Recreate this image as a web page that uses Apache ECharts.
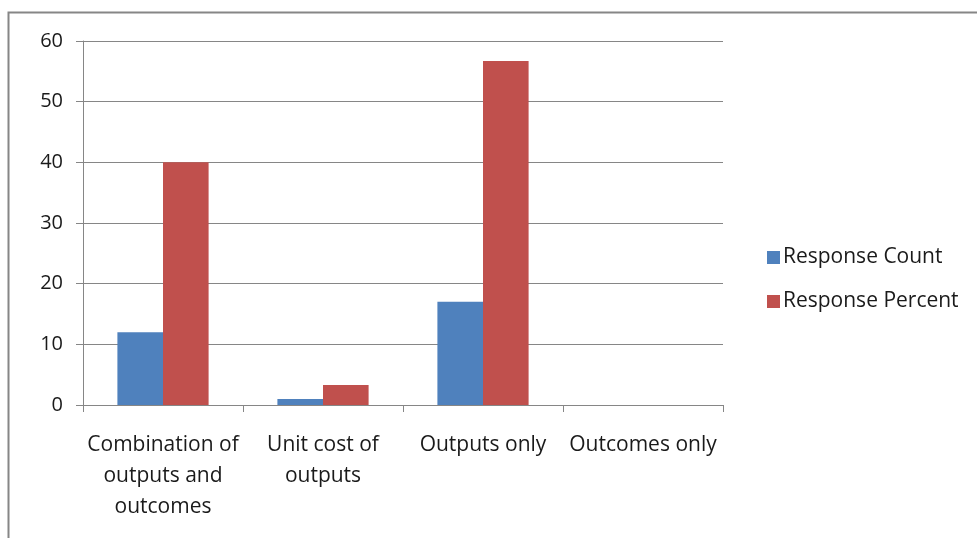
<!DOCTYPE html>
<html><head><meta charset="utf-8">
<script src="https://cdn.jsdelivr.net/npm/echarts@6/dist/echarts.min.js"></script>
<style>html,body{margin:0;padding:0;background:#fff}#c{width:977px;height:538px}</style>
</head><body><div id="c"></div>
<script>
var categories = ['Combination of\noutputs and\noutcomes', 'Unit cost of\noutputs', 'Outputs only', 'Outcomes only'];
var responseCount = [12, 1, 17, 0];
var responsePercent = [40, 3.3, 56.7, 0];
var seriesNames = ['Response Count', 'Response Percent'];

var chart = echarts.init(document.getElementById('c'), null, {renderer: 'canvas'});
var font = 'Open Sans';
chart.setOption({
  animation: false,
  backgroundColor: '#fff',
  graphic: [{type: 'rect', shape: {x: 8.5, y: 12.5, width: 1000, height: 600}, style: {fill: 'none', stroke: '#868686', lineWidth: 2}}],
  grid: {left: 83, right: 254, top: 41, bottom: 133, containLabel: false},
  legend: {
    orient: 'vertical', left: 762, top: 242, itemWidth: 13, itemHeight: 13, itemGap: 23,
    icon: 'rect',
    textStyle: {fontFamily: font, fontSize: 21, color: '#1a1a1a', padding: [0,0,0,-2]},
    data: seriesNames
  },
  xAxis: {
    type: 'category', data: categories,
    axisLine: {lineStyle: {color: '#868686', width: 1}},
    axisTick: {show: true, length: 7, alignWithLabel: false, lineStyle: {color: '#868686'}},
    axisLabel: {fontFamily: font, fontSize: 21, color: '#1a1a1a', margin: 25, lineHeight: 31, interval: 0}
  },
  yAxis: {
    type: 'value', min: 0, max: 60, interval: 10,
    axisLine: {show: true, lineStyle: {color: '#868686'}},
    axisTick: {show: true, length: 7, lineStyle: {color: '#868686'}},
    splitLine: {lineStyle: {color: '#868686', width: 1}},
    axisLabel: {fontFamily: font, fontSize: 20, color: '#1a1a1a', margin: 20}
  },
  series: [
    {name: seriesNames[0], type: 'bar', data: responseCount, itemStyle: {color: '#4F81BD'}, barGap: '0%', barCategoryGap: '43%'},
    {name: seriesNames[1], type: 'bar', data: responsePercent, itemStyle: {color: '#C0504D'}, barGap: '0%', barCategoryGap: '43%'}
  ]
});
</script></body></html>
